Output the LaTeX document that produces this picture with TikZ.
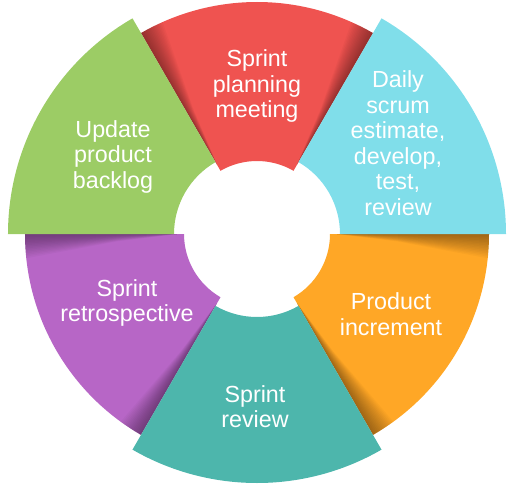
\documentclass[tikz,border=0pt]{standalone}
\usepackage{fontspec}
\setmainfont{Liberation Sans}
\definecolor{cRed}{RGB}{239,83,80}
\definecolor{cBlue}{RGB}{128,222,234}
\definecolor{cGreen}{RGB}{156,204,101}
\definecolor{cPurple}{RGB}{183,102,198}
\definecolor{cTeal}{RGB}{77,182,172}
\definecolor{cOrange}{RGB}{255,167,38}
\newcommand{\ringseg}[5]{%
  \fill[#5] (#1:#3) -- (#1:#4) arc[start angle=#1, end angle=#2, radius=#4]
    -- (#2:#3) arc[start angle=#2, end angle=#1, radius=#3] -- cycle;}
% soft shadow band inside a small segment along the edge at angle #1, towards #1+#2
\newcommand{\edgeshade}[2]{%
  \foreach \w in {0.4,0.8,...,6.4}{%
    \fill[black,opacity=0.028] (#1:80pt) -- (#1:232pt) arc[start angle=#1, end angle={#1+#2*\w}, radius=232pt]
      -- ({#1+#2*\w*0.5}:140pt) -- cycle;}}
\tikzset{lbl/.style={text=white, align=center, inner sep=0pt,
  font=\fontsize{23.3pt}{25.5pt}\selectfont}}
\begin{document}
\begin{tikzpicture}[x=1pt,y=1pt]
\useasboundingbox (-257,-253) rectangle (253,234);
% small segments
\ringseg{60}{120}{73pt}{232pt}{cRed}
\ringseg{180}{240}{73pt}{232pt}{cPurple}
\ringseg{300}{360}{73pt}{232pt}{cOrange}
\edgeshade{120}{-1}
\edgeshade{60}{1}
\edgeshade{180}{1}
\edgeshade{240}{-1}
\edgeshade{300}{1}
\edgeshade{360}{-1}
% large segments
\ringseg{0}{60}{83pt}{249pt}{cBlue}
\ringseg{120}{180}{83pt}{249pt}{cGreen}
\ringseg{240}{300}{83pt}{249pt}{cTeal}
% labels
\node[lbl] (plan) at (0,148) {Sprint\\planning\\meeting};
\node[lbl] (daily) at (141,91) {Daily\\scrum\\estimate,\\develop,\\test,\\review};
\node[lbl] (backlog) at (-144,77.4) {Update\\product\\backlog};
\node[lbl] (retro) at (-130,-69) {Sprint\\retrospective};
\node[lbl] (review) at (-2,-172.7) {Sprint\\review};
\node[lbl] (incr) at (134,-80) {Product\\increment};
\end{tikzpicture}
\end{document}
